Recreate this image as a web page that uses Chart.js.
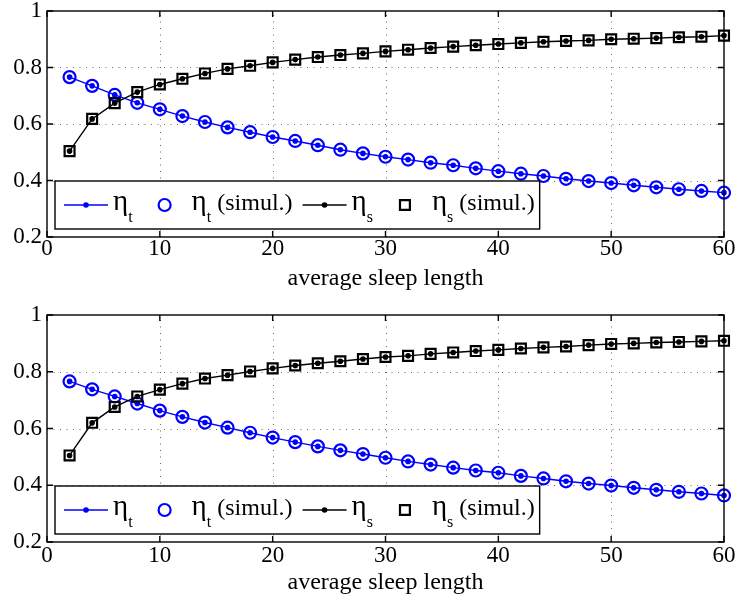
<!DOCTYPE html>
<html>
<head>
<meta charset="utf-8">
<script src="https://cdn.jsdelivr.net/npm/chart.js@4"></script>
<style>
  html, body { margin: 0; padding: 0; background: #fff; }
  #wrap { position: relative; width: 740px; height: 601px; }
  canvas { position: absolute; left: 0; }
</style>
</head>
<body>
<div id="wrap">
  <canvas id="top" width="740" height="300" style="top:0"></canvas>
  <canvas id="bottom" width="740" height="301" style="top:300px"></canvas>
</div>
<script>
// average sleep length (x values shared by both panels)
const sleepLength = [2, 4, 6, 8, 10, 12, 14, 16, 18, 20, 22, 24, 26, 28, 30,
                     32, 34, 36, 38, 40, 42, 44, 46, 48, 50, 52, 54, 56, 58, 60];

// upper panel
const etaTUpper = [0.766, 0.735, 0.703, 0.675, 0.652, 0.628, 0.607, 0.588, 0.571, 0.554,
                   0.540, 0.525, 0.509, 0.496, 0.484, 0.474, 0.463, 0.454, 0.443, 0.433,
                   0.424, 0.416, 0.406, 0.398, 0.391, 0.383, 0.376, 0.369, 0.363, 0.357];
const etaSUpper = [0.504, 0.618, 0.674, 0.713, 0.740, 0.760, 0.779, 0.795, 0.806, 0.818,
                   0.828, 0.837, 0.844, 0.850, 0.857, 0.863, 0.869, 0.874, 0.879, 0.883,
                   0.887, 0.891, 0.894, 0.896, 0.900, 0.902, 0.904, 0.907, 0.909, 0.913];

// lower panel
const etaTLower = [0.766, 0.738, 0.713, 0.688, 0.663, 0.641, 0.621, 0.603, 0.585, 0.568,
                   0.552, 0.537, 0.523, 0.510, 0.497, 0.484, 0.473, 0.462, 0.452, 0.444,
                   0.433, 0.424, 0.414, 0.406, 0.399, 0.391, 0.384, 0.377, 0.371, 0.364];
const etaSLower = [0.505, 0.620, 0.676, 0.713, 0.737, 0.758, 0.776, 0.788, 0.801, 0.812,
                   0.822, 0.830, 0.837, 0.845, 0.852, 0.856, 0.863, 0.868, 0.873, 0.877,
                   0.882, 0.886, 0.889, 0.894, 0.898, 0.900, 0.903, 0.905, 0.907, 0.909];

// axis ticks
const xTicks = [0, 10, 20, 30, 40, 50, 60];
const yTicks = [0.2, 0.4, 0.6, 0.8, 1];
const xTitle = 'average sleep length';

const SERIF = "'Liberation Serif', 'Times New Roman', serif";
const BLUE = '#0000ff';
const BLACK = '#000000';

function pairs(xs, ys) { return xs.map((x, i) => ({ x: x, y: ys[i] })); }

function buildDatasets(etaT, etaS) {
  return [
    { label: 'ηt', legendMain: 'η', legendSub: 't', legendTail: '', kind: 'line',
      data: pairs(sleepLength, etaT), borderColor: BLUE, backgroundColor: BLUE,
      borderWidth: 1.4, pointRadius: 2.8, pointBackgroundColor: BLUE, pointBorderWidth: 0,
      order: 4, clip: false },
    { label: 'ηt (simul.)', legendMain: 'η', legendSub: 't', legendTail: ' (simul.)', kind: 'marker',
      data: pairs(sleepLength, etaT), showLine: false, pointStyle: 'circle',
      pointRadius: 6, pointBorderWidth: 2.2, pointBorderColor: BLUE,
      pointBackgroundColor: 'rgba(0,0,0,0)', borderColor: BLUE, order: 3, clip: false },
    { label: 'ηs', legendMain: 'η', legendSub: 's', legendTail: '', kind: 'line',
      data: pairs(sleepLength, etaS), borderColor: BLACK, backgroundColor: BLACK,
      borderWidth: 1.4, pointRadius: 2.8, pointBackgroundColor: BLACK, pointBorderWidth: 0,
      order: 2, clip: false },
    { label: 'ηs (simul.)', legendMain: 'η', legendSub: 's', legendTail: ' (simul.)', kind: 'marker',
      data: pairs(sleepLength, etaS), showLine: false, pointStyle: 'rect',
      pointRadius: 7, pointBorderWidth: 2.2, pointBorderColor: BLACK,
      pointBackgroundColor: 'rgba(0,0,0,0)', borderColor: BLACK, order: 1, clip: false }
  ];
}

// Boxed axes with dotted grid, inward ticks and an in-plot legend
const boxedAxes = {
  id: 'boxedAxes',
  beforeDatasetsDraw(chart) {
    const { ctx, chartArea: a, scales } = chart;
    ctx.save();
    ctx.strokeStyle = 'rgba(0,0,0,0.6)';
    ctx.lineWidth = 1;
    ctx.setLineDash([1, 5.5]);
    scales.x.ticks.forEach(t => {
      const px = Math.round(scales.x.getPixelForValue(t.value)) + 0.5;
      if (px <= a.left + 1 || px >= a.right - 1) return;
      ctx.beginPath(); ctx.moveTo(px, a.bottom); ctx.lineTo(px, a.top); ctx.stroke();
    });
    scales.y.ticks.forEach(t => {
      const py = Math.round(scales.y.getPixelForValue(t.value)) + 0.5;
      if (py <= a.top + 1 || py >= a.bottom - 1) return;
      ctx.beginPath(); ctx.moveTo(a.left, py); ctx.lineTo(a.right, py); ctx.stroke();
    });
    ctx.restore();
  },
  afterDatasetsDraw(chart) {
    const { ctx, chartArea: a, scales } = chart;
    ctx.save();
    ctx.strokeStyle = '#000';
    ctx.lineWidth = 1.4;
    ctx.setLineDash([]);
    const tick = 6;
    scales.x.ticks.forEach(t => {
      const px = scales.x.getPixelForValue(t.value);
      ctx.beginPath();
      ctx.moveTo(px, a.bottom); ctx.lineTo(px, a.bottom - tick);
      ctx.moveTo(px, a.top); ctx.lineTo(px, a.top + tick);
      ctx.stroke();
    });
    scales.y.ticks.forEach(t => {
      const py = scales.y.getPixelForValue(t.value);
      ctx.beginPath();
      ctx.moveTo(a.left, py); ctx.lineTo(a.left + tick, py);
      ctx.moveTo(a.right, py); ctx.lineTo(a.right - tick, py);
      ctx.stroke();
    });
    ctx.strokeRect(a.left, a.top, a.right - a.left, a.bottom - a.top);

    // legend
    const greekFont = '29px ' + SERIF;
    const mainFont = '24px ' + SERIF;
    const subFont = '16px ' + SERIF;
    const boxLeft = a.left + 8;
    const boxH = 48;
    const boxBottom = a.bottom - 8;
    const boxTop = boxBottom - boxH;
    const midY = boxTop + boxH / 2;
    const sampleW = 44;
    const padL = 9, gapText = 5, gapItem = 10, padR = 5;

    const items = chart.data.datasets.map(ds => {
      ctx.font = greekFont;
      const wMain = ctx.measureText(ds.legendMain).width;
      ctx.font = mainFont;
      const wTail = ctx.measureText(ds.legendTail).width;
      ctx.font = subFont;
      const wSub = ctx.measureText(ds.legendSub).width;
      return { ds, wMain, wSub, wTail, w: sampleW + gapText + wMain + wSub + wTail };
    });
    let total = padL + padR;
    items.forEach((it, i) => { total += it.w + (i ? gapItem : 0); });

    ctx.fillStyle = '#fff';
    ctx.fillRect(boxLeft, boxTop, total, boxH);
    ctx.lineWidth = 1.4;
    ctx.strokeStyle = '#000';
    ctx.strokeRect(boxLeft, boxTop, total, boxH);

    let x = boxLeft + padL;
    items.forEach((it, i) => {
      if (i) x += gapItem;
      const ds = it.ds;
      const cx = x + sampleW / 2;
      if (ds.kind === 'line') {
        ctx.strokeStyle = ds.borderColor;
        ctx.lineWidth = ds.borderWidth;
        ctx.beginPath(); ctx.moveTo(x, midY); ctx.lineTo(x + sampleW, midY); ctx.stroke();
        ctx.fillStyle = ds.pointBackgroundColor;
        ctx.beginPath(); ctx.arc(cx, midY, ds.pointRadius, 0, Math.PI * 2); ctx.fill();
      } else {
        ctx.strokeStyle = ds.pointBorderColor;
        ctx.lineWidth = ds.pointBorderWidth;
        ctx.beginPath();
        if (ds.pointStyle === 'circle') {
          ctx.arc(cx, midY, ds.pointRadius, 0, Math.PI * 2);
        } else {
          const h = Math.SQRT1_2 * ds.pointRadius;
          ctx.rect(cx - h, midY - h, 2 * h, 2 * h);
        }
        ctx.stroke();
      }
      let tx = x + sampleW + gapText;
      const base = midY + 5;
      ctx.fillStyle = '#000';
      ctx.textAlign = 'left';
      ctx.textBaseline = 'alphabetic';
      ctx.font = greekFont;
      ctx.fillText(ds.legendMain, tx, base);
      tx += it.wMain;
      ctx.font = subFont;
      ctx.fillText(ds.legendSub, tx, base + 12);
      tx += it.wSub;
      ctx.font = mainFont;
      ctx.fillText(ds.legendTail, tx, base);
      x += it.w;
    });
    ctx.restore();
  }
};

function makePanel(id, etaT, etaS, layout) {
  const canvas = document.getElementById(id);
  return new Chart(canvas, {
    type: 'line',
    data: { datasets: buildDatasets(etaT, etaS) },
    plugins: [boxedAxes],
    options: {
      responsive: false,
      animation: false,
      events: [],
      layout: { padding: { top: layout.top, right: 16, bottom: 0, left: 0 } },
      plugins: { legend: { display: false }, tooltip: { enabled: false } },
      scales: {
        x: {
          type: 'linear', min: 0, max: 60,
          grid: { display: false, drawTicks: false },
          border: { display: false },
          afterBuildTicks: s => { s.ticks = xTicks.map(v => ({ value: v })); },
          afterFit: s => { s.height = layout.xHeight; s.paddingLeft = 0; s.paddingRight = 0; },
          ticks: {
            color: '#000', padding: layout.xTickPad, maxRotation: 0, autoSkip: false,
            font: { family: SERIF, size: 23, lineHeight: 1 },
            callback: v => String(v)
          },
          title: {
            display: true, text: xTitle, color: '#000',
            font: { family: SERIF, size: 24 },
            padding: { top: 0, bottom: layout.titlePad }
          }
        },
        y: {
          type: 'linear', min: 0.2, max: 1,
          grid: { display: false, drawTicks: false },
          border: { display: false },
          afterBuildTicks: s => { s.ticks = yTicks.map(v => ({ value: v })); },
          afterFit: s => { s.width = 47; s.paddingTop = 0; s.paddingBottom = 0; },
          ticks: {
            color: '#000', padding: 5, autoSkip: false,
            font: { family: SERIF, size: 23, lineHeight: 1 },
            callback: v => String(Math.round(v * 10) / 10)
          }
        }
      }
    }
  });
}

makePanel('top', etaTUpper, etaSUpper, { top: 11, xHeight: 63, xTickPad: 0, titlePad: 7 });
makePanel('bottom', etaTLower, etaSLower, { top: 15, xHeight: 59, xTickPad: 2, titlePad: 4 });
</script>
</body>
</html>
